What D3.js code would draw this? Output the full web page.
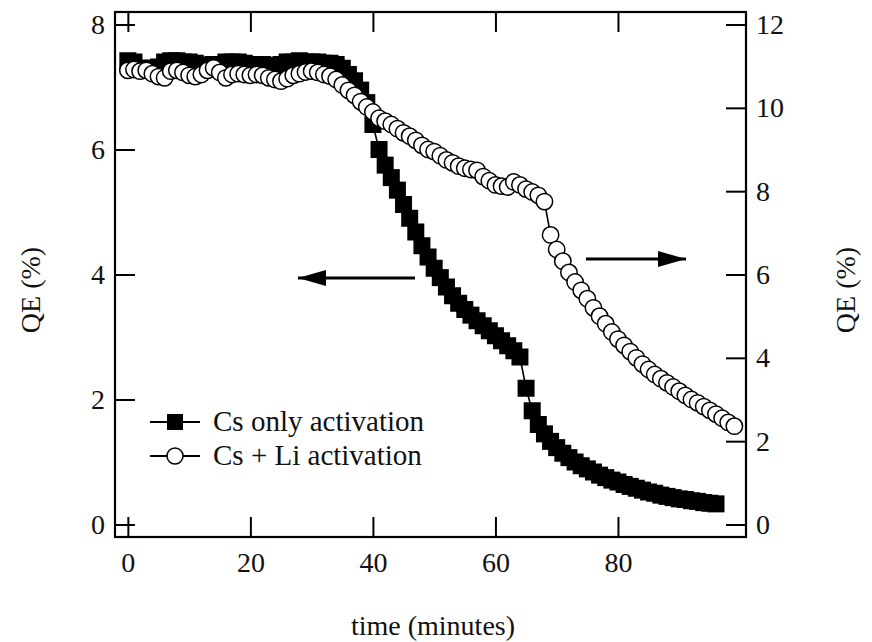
<!DOCTYPE html>
<html><head><meta charset="utf-8">
<script src="https://cdn.jsdelivr.net/npm/d3@7/dist/d3.min.js"></script>
<style>body{margin:0;background:#fff}svg{display:block}text{font-family:"Liberation Serif","Times New Roman",serif;fill:#111}</style>
</head><body><svg id="c" width="872" height="642"></svg>
<script>
// Time (minutes) for each series
const timeCs = d3.range(0, 97);     // 0..96
const timeCsLi = d3.range(0, 100);  // 0..99
// QE (%) Cs only activation (left axis)
const qeCs = [7.42,7.40,7.30,7.30,7.30,7.32,7.40,7.42,7.42,7.40,7.40,7.38,7.35,7.35,7.36,7.36,7.40,7.40,7.40,7.38,
  7.36,7.36,7.36,7.34,7.34,7.36,7.40,7.40,7.42,7.40,7.40,7.40,7.38,7.38,7.36,7.30,7.20,7.10,6.95,6.75,
  6.40,6.00,5.75,5.55,5.35,5.12,4.90,4.68,4.46,4.28,4.10,3.95,3.80,3.66,3.54,3.44,3.35,3.26,3.18,3.10,
  3.02,2.94,2.86,2.78,2.68,2.18,1.82,1.60,1.45,1.33,1.23,1.14,1.07,1.00,0.94,0.89,0.84,0.79,0.75,0.71,
  0.68,0.64,0.61,0.58,0.55,0.52,0.50,0.47,0.45,0.43,0.41,0.40,0.38,0.37,0.35,0.34,0.33];
// QE (%) Cs + Li activation (right axis)
const qeCsLi = [10.90,10.92,10.88,10.90,10.82,10.75,10.72,10.88,10.90,10.85,10.78,10.75,10.80,10.90,10.96,10.85,10.72,10.80,10.82,10.80,
  10.78,10.80,10.78,10.72,10.68,10.64,10.70,10.78,10.82,10.86,10.88,10.85,10.80,10.76,10.68,10.55,10.42,10.30,10.15,10.02,
  9.90,9.75,9.68,9.60,9.50,9.40,9.32,9.22,9.10,9.00,8.95,8.85,8.75,8.68,8.60,8.55,8.52,8.50,8.35,8.25,
  8.15,8.12,8.10,8.22,8.15,8.05,7.98,7.90,7.75,6.95,6.60,6.32,6.05,5.82,5.62,5.42,5.20,5.00,4.82,4.62,
  4.45,4.30,4.15,4.00,3.85,3.72,3.60,3.50,3.40,3.30,3.20,3.10,3.00,2.92,2.83,2.74,2.65,2.55,2.45,2.36];
const xTicks = [0,20,40,60,80];
const yLeftTicks = [0,2,4,6,8];
const yRightTicks = [0,2,4,6,8,10,12];
const legendLabels = ["Cs only activation","Cs + Li activation"];
const xTitle = "time (minutes)";
const yTitle = "QE (%)";

const L=115,R=746,T=12,B=537;
const svg=d3.select("#c");
const x=d3.scaleLinear([-2.1,100.9],[L,R]);
const yL=d3.scaleLinear([-0.2,8.2],[B,T]);
const yR=d3.scaleLinear([-0.3,12.3],[B,T]);
const fs=28;

function styleAxis(g){
  g.select(".domain").remove();
  g.selectAll(".tick line").attr("stroke","#000").attr("stroke-width",2);
  g.selectAll(".tick text").attr("font-size",fs).attr("fill","#111").attr("font-family",'"Liberation Serif",serif');
}
svg.append("g").attr("transform",`translate(0,${B})`).call(d3.axisBottom(x).tickValues(xTicks).tickSize(-20).tickPadding(15)).call(styleAxis);
svg.append("g").attr("transform",`translate(0,${T})`).call(d3.axisTop(x).tickValues(xTicks).tickSize(-20).tickFormat("")).call(styleAxis);
svg.append("g").attr("transform",`translate(${L},0)`).call(d3.axisLeft(yL).tickValues(yLeftTicks).tickSize(-20).tickPadding(10)).call(styleAxis);
svg.append("g").attr("transform",`translate(${R},0)`).call(d3.axisRight(yR).tickValues(yRightTicks).tickSize(-20).tickPadding(10)).call(styleAxis);
svg.append("rect").attr("x",L).attr("y",T).attr("width",R-L).attr("height",B-T).attr("fill","none").attr("stroke","#000").attr("stroke-width",2.2);

const dCs=timeCs.map((t,i)=>[t,qeCs[i]]);
const dLi=timeCsLi.map((t,i)=>[t,qeCsLi[i]]);
svg.append("path").datum(dCs).attr("d",d3.line().x(d=>x(d[0])).y(d=>yL(d[1]))).attr("fill","none").attr("stroke","#000").attr("stroke-width",1.6);
svg.append("path").datum(dLi).attr("d",d3.line().x(d=>x(d[0])).y(d=>yR(d[1]))).attr("fill","none").attr("stroke","#000").attr("stroke-width",1.6);
const S=17;
svg.append("g").selectAll("rect").data(dCs).join("rect")
  .attr("x",d=>x(d[0])-S/2).attr("y",d=>yL(d[1])-S/2).attr("width",S).attr("height",S).attr("fill","#000");
svg.append("g").selectAll("circle").data(dLi).join("circle")
  .attr("cx",d=>x(d[0])).attr("cy",d=>yR(d[1])).attr("r",8.2).attr("fill","#fff").attr("stroke","#000").attr("stroke-width",1.5);

// arrows
function arrow(x1,x2,y,dir){
  svg.append("line").attr("x1",x1).attr("x2",x2).attr("y1",y).attr("y2",y).attr("stroke","#000").attr("stroke-width",3);
  const tip=dir<0?Math.min(x1,x2):Math.max(x1,x2);
  const base=tip-dir*28;
  svg.append("path").attr("d",`M${tip},${y}L${base},${y-8}L${base},${y+8}Z`).attr("fill","#000");
}
arrow(298,415,278,-1);
arrow(586,686,259,1);

// legend
const lg=svg.append("g");
[0,1].forEach(i=>{
  const yy=422+i*34;
  lg.append("line").attr("x1",150).attr("x2",200).attr("y1",yy).attr("y2",yy).attr("stroke","#000").attr("stroke-width",2);
  if(i===0) lg.append("rect").attr("x",175-8).attr("y",yy-8).attr("width",16).attr("height",16).attr("fill","#000");
  else lg.append("circle").attr("cx",175).attr("cy",yy).attr("r",8).attr("fill","#fff").attr("stroke","#000").attr("stroke-width",1.5);
  lg.append("text").attr("x",213).attr("y",yy+9).attr("font-size",29).text(legendLabels[i]);
});

svg.append("text").attr("x",433).attr("y",635).attr("text-anchor","middle").attr("font-size",28).text(xTitle);
svg.append("text").attr("transform","translate(40,290) rotate(-90)").attr("text-anchor","middle").attr("font-size",28).text(yTitle);
svg.append("text").attr("transform","translate(855,290) rotate(-90)").attr("text-anchor","middle").attr("font-size",28).text(yTitle);
</script></body></html>
